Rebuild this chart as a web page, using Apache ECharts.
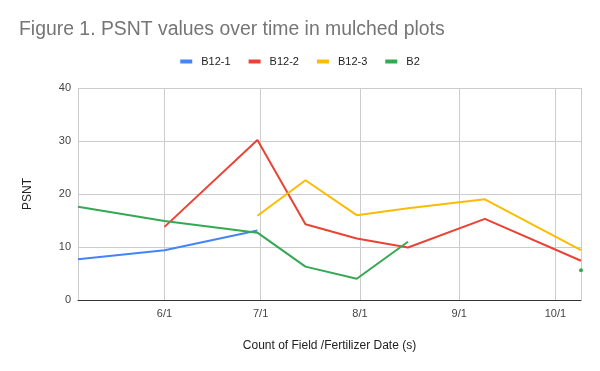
<!DOCTYPE html>
<html>
<head>
<meta charset="utf-8">
<script src="https://cdn.jsdelivr.net/npm/echarts@6/dist/echarts.min.js"></script>
<style>
html,body{margin:0;padding:0;background:#fff;}
#chart{width:600px;height:371px;}
</style>
</head>
<body>
<div id="chart"></div>
<script>
const dates = ['2021-05-05','2021-06-01','2021-06-30','2021-07-15','2021-07-31','2021-08-16','2021-09-09','2021-10-09'];
const seriesNames = ['B12-1','B12-2','B12-3','B2'];
const b12_1 = [7.7, 9.4, 13.1, null, null, null, null, null];
const b12_2 = [null, 13.8, 30.2, 14.3, 11.6, 9.9, 15.3, 7.4];
const b12_3 = [null, null, 15.9, 22.6, 16.0, 17.3, 19.0, 9.4];
const b2    = [17.6, 14.9, 12.7, 6.3, 4.0, 11.0, null, 5.6];
const yTicks = [0, 10, 20, 30, 40];
const title = 'Figure 1. PSNT values over time in mulched plots';
const xName = 'Count of Field /Fertilizer Date (s)';
const yName = 'PSNT';

const colors = ['#4285F4','#EA4335','#FBBC04','#34A853'];
const allValues = [b12_1, b12_2, b12_3, b2];
const FONT = 'Liberation Sans, Arial, sans-serif';

function isIsolated(arr, i){
  if (arr[i] == null) return false;
  const prev = i > 0 ? arr[i-1] : null;
  const next = i < arr.length-1 ? arr[i+1] : null;
  return prev == null && next == null;
}

const chart = echarts.init(document.getElementById('chart'), null, {renderer:'canvas'});
const option = {
  animation: false,
  color: colors,
  title: {
    text: title,
    left: 19, top: 20, padding: 0,
    textStyle: {fontFamily: FONT, fontSize: 19.4, fontWeight: 'normal', color: '#757575'}
  },
  legend: {
    top: 56, left: 'center', padding: 0,
    itemWidth: 12, itemHeight: 4, itemGap: 18,
    icon: 'rect',
    textStyle: {fontFamily: FONT, fontSize: 11, color: '#222', padding: [0,0,0,4]},
    data: seriesNames
  },
  grid: {left: 78, right: 19, top: 88, bottom: 71, containLabel: false},
  xAxis: {
    type: 'time',
    min: dates[0], max: dates[dates.length-1],
    name: xName, nameLocation: 'middle', nameGap: 40,
    nameTextStyle: {fontFamily: FONT, fontSize: 12, color: '#222'},
    axisLine: {show: true, lineStyle: {color: '#333', width: 1}},
    axisTick: {show: false},
    axisLabel: {
      fontFamily: FONT, fontSize: 11, color: '#444', margin: 8,
      formatter: function(v){ const d = new Date(v); return (d.getMonth()+1) + '/' + d.getDate(); }
    },
    splitLine: {show: true, lineStyle: {color: '#cccccc', width: 1}}
  },
  yAxis: {
    type: 'value', min: yTicks[0], max: yTicks[yTicks.length-1], interval: 10,
    name: yName, nameLocation: 'middle', nameGap: 44, nameRotate: 90,
    nameTextStyle: {fontFamily: FONT, fontSize: 12, color: '#222'},
    axisLine: {show: false}, axisTick: {show: false},
    axisLabel: {fontFamily: FONT, fontSize: 11, color: '#444', margin: 7},
    splitLine: {show: true, lineStyle: {color: '#cccccc', width: 1}}
  },
  series: seriesNames.map(function(name, k){
    const arr = allValues[k];
    return {
      name: name, type: 'line',
      data: dates.map(function(d, i){ return [d, arr[i]]; }),
      connectNulls: false,
      showSymbol: true, symbol: 'circle',
      symbolSize: function(val, params){ return isIsolated(arr, params.dataIndex) ? 4 : 0; },
      lineStyle: {width: 2, color: colors[k]},
      itemStyle: {color: colors[k], borderWidth: 0},
      emphasis: {disabled: true}
    };
  })
};
chart.setOption(option);
</script>
</body>
</html>
